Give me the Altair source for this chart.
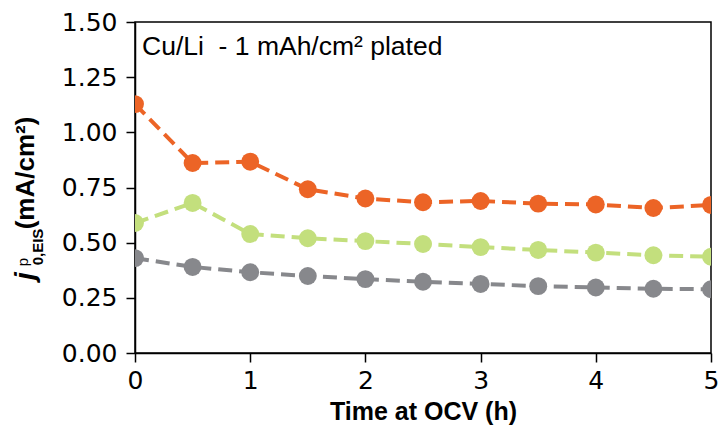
import altair as alt
import pandas as pd

# Exchange current density from EIS vs. rest time at open-circuit voltage
hours = [0, 0.5, 1, 1.5, 2, 2.5, 3, 3.5, 4, 4.5, 5]
j_orange = [1.128, 0.861, 0.867, 0.742, 0.700, 0.683, 0.689, 0.677, 0.673, 0.657, 0.671]
j_green = [0.589, 0.680, 0.539, 0.520, 0.507, 0.494, 0.480, 0.467, 0.455, 0.443, 0.436]
j_gray = [0.430, 0.390, 0.366, 0.349, 0.335, 0.323, 0.313, 0.303, 0.297, 0.291, 0.289]

series_names = ["orange", "green", "gray"]
series_colors = ["#EC6426", "#C3DF7D", "#87888C"]

y_ticks = [0, 0.25, 0.5, 0.75, 1.0, 1.25, 1.5]
x_ticks = [0, 1, 2, 3, 4, 5]

rows = []
for name, vals in zip(series_names, [j_orange, j_green, j_gray]):
    for t, v in zip(hours, vals):
        rows.append({"time": t, "j0": v, "series": name})
df = pd.DataFrame(rows)

x_enc = alt.X("time:Q", scale=alt.Scale(domain=[0, 5], nice=False),
              axis=alt.Axis(values=x_ticks, format="d", title="Time at OCV (h)",
                            titlePadding=6))
y_enc = alt.Y("j0:Q", scale=alt.Scale(domain=[0, 1.5], nice=False),
              axis=alt.Axis(values=y_ticks, format=".2f", title=None))
color_enc = alt.Color("series:N", scale=alt.Scale(domain=series_names, range=series_colors),
                      legend=None)

base = alt.Chart(df)
lines = base.mark_line(strokeDash=[14, 7], strokeWidth=4, clip=True).encode(
    x=x_enc, y=y_enc, color=color_enc, detail="series:N")
points = base.mark_circle(size=320, opacity=1, clip=True).encode(
    x=x_enc, y=y_enc, color=color_enc)

one = pd.DataFrame({"k": [0]})
annot = alt.Chart(one).mark_text(
    text="Cu/Li\u00a0\u00a0- 1 mAh/cm\u00b2 plated", font="Liberation Sans", fontSize=26.5,
    align="left", baseline="middle", color="black"
).encode(x=alt.value(7), y=alt.value(25))

# Rotated y-axis title built from pieces: j, superscript p, subscript 0,EIS, units
def ylabel_piece(text, x, y, size, weight="bold", style="normal"):
    return alt.Chart(one).mark_text(
        text=text, font="Liberation Sans", fontSize=size, fontWeight=weight,
        fontStyle=style, angle=270, align="center", baseline="middle", color="black"
    ).encode(x=alt.value(x), y=alt.value(y))

y_title = (
    ylabel_piece("j", -109, 254, 28, style="italic")
    + ylabel_piece("p", -112, 240, 15, weight="normal")
    + ylabel_piece("0,EIS", -97, 225, 15)
    + ylabel_piece("(mA/cm\u00b2)", -109, 151, 26)
)

chart = alt.layer(lines, points, annot, y_title).properties(
    width=576, height=331,
    autosize=alt.AutoSizeParams(type="none"),
    padding={"left": 135, "top": 22, "right": 10, "bottom": 76},
    background="white",
).configure_view(
    stroke="black", strokeWidth=1.5
).configure_axis(
    grid=False, domainColor="black", domainWidth=1.5, tickColor="black",
    tickWidth=1.5, tickSize=9, labelFont="DejaVu Sans", labelFontSize=25,
    labelColor="black", labelFlush=False, titleFont="Liberation Sans",
    titleFontSize=25, titleFontWeight="bold", titleColor="black"
).configure_axisX(
    labelPadding=6
).configure_axisY(
    labelPadding=9
)

chart.save("out.html", embed_options={"renderer": "svg", "actions": False})
